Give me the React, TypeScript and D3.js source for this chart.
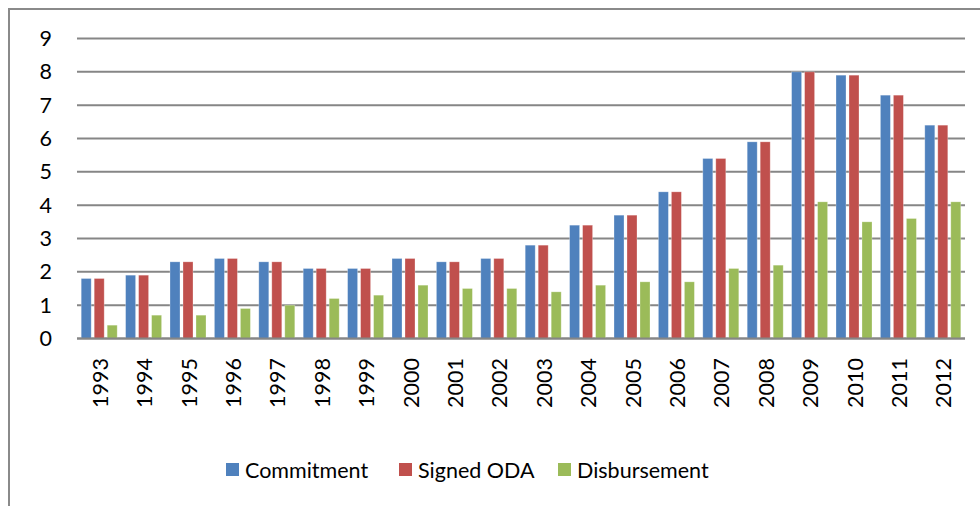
import React from "react";
import * as d3 from "d3";

const years = ["1993","1994","1995","1996","1997","1998","1999","2000","2001","2002","2003","2004","2005","2006","2007","2008","2009","2010","2011","2012"];
const commitment = [1.8,1.9,2.3,2.4,2.3,2.1,2.1,2.4,2.3,2.4,2.8,3.4,3.7,4.4,5.4,5.9,8.0,7.9,7.3,6.4];
const signedODA = [1.8,1.9,2.3,2.4,2.3,2.1,2.1,2.4,2.3,2.4,2.8,3.4,3.7,4.4,5.4,5.9,8.0,7.9,7.3,6.4];
const disbursement = [0.4,0.7,0.7,0.9,1.0,1.2,1.3,1.6,1.5,1.5,1.4,1.6,1.7,1.7,2.1,2.2,4.1,3.5,3.6,4.1];
const seriesNames = ["Commitment","Signed ODA","Disbursement"];
const yTicks = [0,1,2,3,4,5,6,7,8,9];

const colors = ["#4F81BD","#C0504D","#9BBB59"];
const FONT = "Lato, 'Open Sans', sans-serif";
const FS = 21.5;

export default function App() {
  const W = 980, H = 506;
  const left = 77, right = 965, top = 38.5, bottom = 338.5;
  const x = d3.scaleBand<string>().domain(years).range([left, right]).padding(0);
  const y = d3.scaleLinear().domain([0, 9]).range([bottom, top]);
  const series = [commitment, signedODA, disbursement];
  const barW = 10;
  const step = 13;
  const legendX = [226, 399, 558];

  return (
    <svg width={W} height={H} style={{ position: "absolute", left: 0, top: 0, background: "#fff" }}>
      <rect x={9} y={9} width={W + 20} height={H + 20} fill="#fff" stroke="#8a8a8a" strokeWidth={2} />
      {yTicks.map((t) => (
        <g key={t}>
          <line x1={left} x2={right} y1={y(t)} y2={y(t)} stroke="#868686" strokeWidth={2} />
          <text x={52} y={y(t)} dy="0.35em" textAnchor="end" fontFamily={FONT} fontSize={FS} fill="#000">{t}</text>
        </g>
      ))}
      {years.map((yr, i) => {
        const c = (x(yr) as number) + x.bandwidth() / 2;
        return (
          <g key={yr}>
            {series.map((s, k) => (
              <rect key={k} x={c + (k - 1) * step - barW / 2} y={y(s[i])} width={barW} height={y(0) - y(s[i])} fill={colors[k]} stroke="rgba(255,255,255,0.35)" strokeWidth={0.8} />
            ))}
            <text transform={`translate(${c + 1},358) rotate(-90)`} textAnchor="end" dy="0.35em" fontFamily={FONT} fontSize={FS} fill="#000">{yr}</text>
          </g>
        );
      })}
      <line x1={left} x2={right} y1={y(0)} y2={y(0)} stroke="#868686" strokeWidth={2} />
      {seriesNames.map((n, k) => (
        <g key={n}>
          <rect x={legendX[k]} y={463} width={13} height={13} fill={colors[k]} />
          <text x={legendX[k] + 19} y={470} dy="0.35em" fontFamily={FONT} fontSize={FS} fill="#000">{n}</text>
        </g>
      ))}
    </svg>
  );
}
